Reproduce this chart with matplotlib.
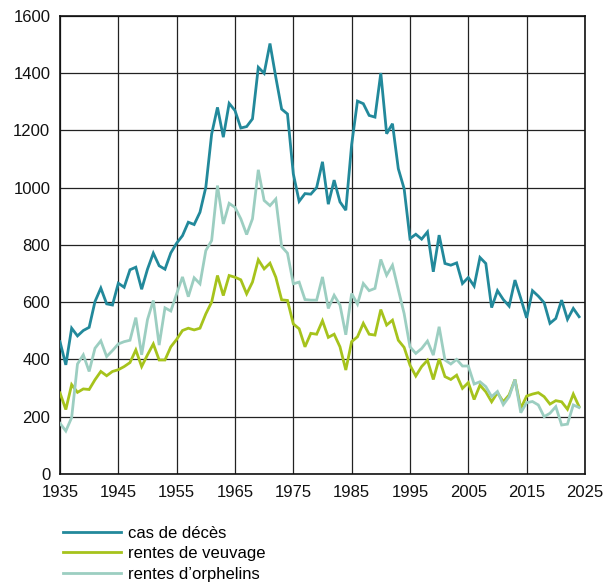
import matplotlib
matplotlib.use("Agg")
import matplotlib.pyplot as plt

plt.rcParams['font.family'] = ['Liberation Sans', 'DejaVu Sans']

years = list(range(1935, 2025))

deces = [462, 381, 509, 482, 501, 512, 602, 649, 594, 590,
         666, 652, 713, 722, 645, 715, 771, 727, 715, 772,
         806, 832, 879, 871, 914, 1001, 1187, 1280, 1176, 1294,
         1269, 1208, 1213, 1240, 1420, 1399, 1503, 1385, 1274, 1257,
         1048, 952, 979, 977, 1000, 1090, 942, 1026, 950, 921,
         1150, 1302, 1293, 1252, 1246, 1400, 1188, 1223, 1066, 996,
         822, 837, 820, 845, 706, 834, 735, 729, 737, 665,
         686, 656, 756, 735, 581, 640, 609, 586, 677, 613,
         545, 640, 621, 598, 526, 543, 607, 540, 578, 549]

veuvage = [283, 225, 312, 285, 297, 295, 329, 358, 343, 358,
           364, 375, 389, 433, 375, 416, 454, 398, 398, 444,
           470, 501, 509, 503, 509, 559, 600, 693, 623, 693,
           687, 678, 629, 670, 748, 716, 736, 687, 608, 606,
           524, 507, 444, 491, 488, 535, 477, 488, 444, 363,
           462, 479, 526, 488, 485, 574, 520, 537, 467, 442,
           380, 342, 375, 397, 330, 402, 340, 330, 345, 299,
           319, 260, 310, 287, 252, 284, 252, 276, 330, 229,
           272, 279, 284, 270, 244, 256, 252, 226, 279, 235]

orphelins = [177, 150, 197, 384, 416, 358, 439, 465, 410, 431,
             454, 462, 467, 546, 416, 539, 606, 450, 580, 569,
             629, 688, 619, 685, 664, 780, 815, 1007, 873, 945,
             931, 891, 836, 891, 1062, 955, 937, 960, 794, 771,
             664, 670, 609, 607, 607, 688, 578, 624, 590, 486,
             630, 593, 665, 640, 648, 749, 694, 729, 644, 560,
             444, 421, 438, 464, 415, 514, 398, 384, 400, 377,
             377, 314, 322, 305, 270, 288, 242, 270, 330, 214,
             249, 253, 241, 200, 212, 235, 171, 174, 241, 232]

labels = ['cas de décès', 'rentes de veuvage', 'rentes d\u2019orphelins']
colors = ['#22899b', '#a6c31c', '#9ccec1']

fig = plt.figure(figsize=(6.14, 5.83), dpi=100)
ax = fig.add_axes([0.0977, 0.187, 0.855, 0.786])

lines = []
for vals, lab, col in zip([deces, veuvage, orphelins], labels, colors):
    ln, = ax.plot(years, vals, color=col, lw=2.0, label=lab,
                  solid_joinstyle='miter', zorder=3)
    lines.append(ln)

ax.set_xlim(1935, 2025)
ax.set_ylim(0, 1600)
ax.set_xticks(range(1935, 2026, 10))
ax.set_yticks(range(0, 1601, 200))
ax.grid(True, color='#222222', lw=0.9, zorder=1)
for s in ax.spines.values():
    s.set_color('#111111')
    s.set_linewidth(1.2)
ax.tick_params(length=0, labelsize=12, colors='#111111')
ax.tick_params(axis='x', pad=8)
ax.tick_params(axis='y', pad=7)

fig.legend(handles=lines, labels=labels, loc='upper left',
           bbox_to_anchor=(0.102, 0.098), frameon=False, fontsize=12,
           handlelength=3.5, handletextpad=0.45, labelspacing=0.32,
           borderpad=0, borderaxespad=0)

fig.savefig('out.png', dpi=100)
